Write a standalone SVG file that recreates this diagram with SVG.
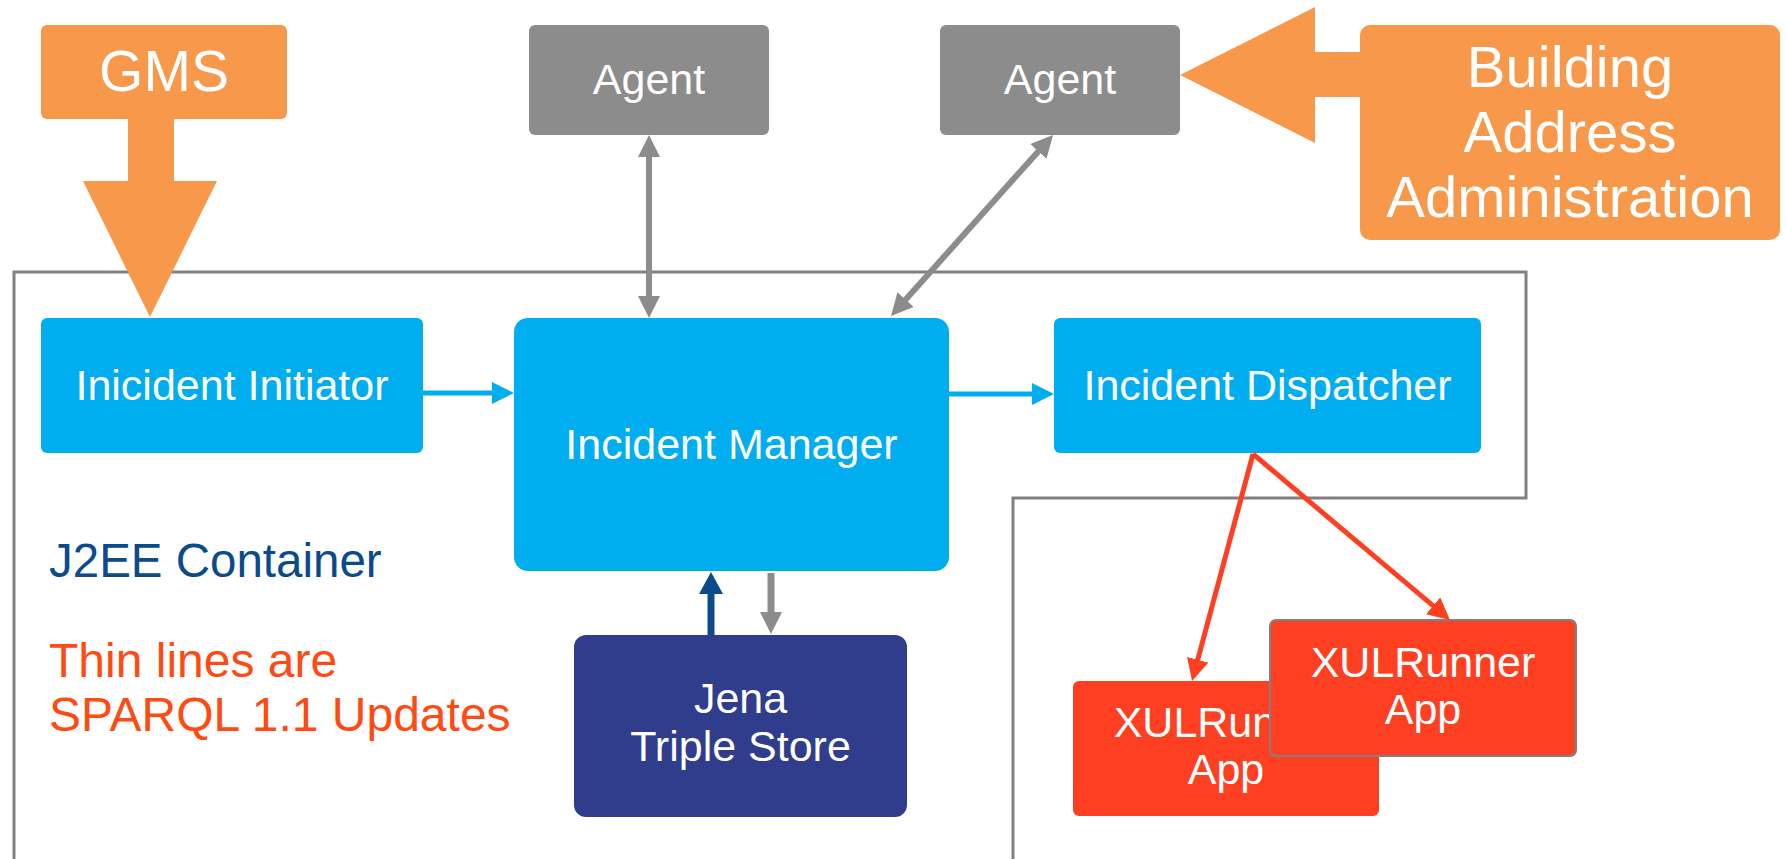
<svg xmlns="http://www.w3.org/2000/svg" width="1786" height="859" viewBox="0 0 1786 859">
<style>
text{font-family:"Liberation Sans",Arial,sans-serif;text-anchor:middle;fill:#fff}
.lbl{font-size:43px}
.big{font-size:58px}
.note{text-anchor:start;font-size:48px}
.gray{fill:#8C8C8C}
.orange{fill:#F7984A}
.blue{fill:#00AEEF}
.navy{fill:#303C8C}
.red{fill:#FF3F22}
</style>
<defs>
<marker id="hGray" markerUnits="userSpaceOnUse" markerWidth="22" markerHeight="22" refX="4" refY="11" orient="auto-start-reverse"><path d="M0,0 L22,11 L0,22 z" fill="#8C8C8C"/></marker>
<marker id="hBlue" markerUnits="userSpaceOnUse" markerWidth="22" markerHeight="22" refX="4" refY="11" orient="auto"><path d="M0,0 L22,11 L0,22 z" fill="#00AEEF"/></marker>
<marker id="hNavy" markerUnits="userSpaceOnUse" markerWidth="24" markerHeight="24" refX="4" refY="12" orient="auto"><path d="M0,0 L22,12 L0,24 z" fill="#0B4A8B"/></marker>
<marker id="hRed" markerUnits="userSpaceOnUse" markerWidth="22" markerHeight="22" refX="4" refY="11" orient="auto"><path d="M0,0 L22,11 L0,22 z" fill="#FF3F22"/></marker>
</defs>
<rect width="1786" height="859" fill="#fff"/>
<g id="container">
<path d="M14,859 V272 H1526 V498 H1013 V859" fill="none" stroke="#808080" stroke-width="3"/>
<text class="note" x="49" y="577" style="fill:#0B4A8B;font-size:47.5px">J2EE Container</text>
<text class="note" x="49" y="677" style="fill:#FF4A12">Thin lines are</text>
<text class="note" x="49" y="731" style="fill:#FF4A12">SPARQL 1.1 Updates</text>
</g>
<g id="gms">
<rect x="41" y="25" width="246" height="94" rx="6" class="orange"/>
<text x="164" y="91" style="font-size:57px">GMS</text>
<polygon points="128,118 174,118 174,181 217,181 150,317 83,181 128,181" class="orange"/>
</g>
<g id="agent1">
<rect x="529" y="25" width="240" height="110" rx="6" class="gray"/>
<text class="lbl" x="649" y="94">Agent</text>
</g>
<g id="agent2">
<rect x="940" y="25" width="240" height="110" rx="6" class="gray"/>
<text class="lbl" x="1060" y="94">Agent</text>
</g>
<g id="building">
<rect x="1360" y="25" width="420" height="215" rx="10" class="orange"/>
<text class="big" x="1570" y="87">Building</text>
<text class="big" x="1570" y="152">Address</text>
<text class="big" x="1570" y="217">Administration</text>
<polygon points="1361,52 1315,52 1315,7 1180,75 1315,143 1315,97 1361,97" class="orange"/>
</g>
<g id="initiator">
<rect x="41" y="318" width="382" height="135" rx="6" class="blue"/>
<text class="lbl" x="232" y="400">Inicident Initiator</text>
</g>
<g id="manager">
<rect x="514" y="318" width="435" height="253" rx="14" class="blue"/>
<text class="lbl" x="731.5" y="459">Incident Manager</text>
</g>
<g id="dispatcher">
<rect x="1054" y="318" width="427" height="135" rx="6" class="blue"/>
<text class="lbl" x="1267.5" y="400">Incident Dispatcher</text>
</g>
<g id="jena">
<rect x="574" y="635" width="333" height="182" rx="12" class="navy"/>
<text class="lbl" x="740.5" y="713">Jena</text>
<text class="lbl" x="740.5" y="761">Triple Store</text>
</g>
<g id="xul1">
<rect x="1073" y="681" width="306" height="135" rx="6" class="red"/>
<text class="lbl" x="1226" y="737">XULRunner</text>
<text class="lbl" x="1226" y="784">App</text>
</g>
<g id="xul2">
<rect x="1270" y="620" width="306" height="136" rx="6" class="red" stroke="#808080" stroke-width="2"/>
<text class="lbl" x="1423" y="677">XULRunner</text>
<text class="lbl" x="1423" y="724">App</text>
</g>
<g id="connectors" fill="none">
<line x1="649" y1="153" x2="649" y2="300" stroke="#8C8C8C" stroke-width="6" marker-start="url(#hGray)" marker-end="url(#hGray)"/>
<line x1="1041" y1="148.4" x2="903" y2="302.6" stroke="#8C8C8C" stroke-width="6" marker-start="url(#hGray)" marker-end="url(#hGray)"/>
<line x1="423" y1="393" x2="496" y2="393" stroke="#00AEEF" stroke-width="5" marker-end="url(#hBlue)"/>
<line x1="949" y1="394" x2="1036" y2="394" stroke="#00AEEF" stroke-width="5" marker-end="url(#hBlue)"/>
<line x1="711" y1="635" x2="711" y2="590" stroke="#0B4A8B" stroke-width="7" marker-end="url(#hNavy)"/>
<line x1="771" y1="573" x2="771" y2="616" stroke="#8C8C8C" stroke-width="7" marker-end="url(#hGray)"/>
<line x1="1253" y1="454" x2="1196.7" y2="663.6" stroke="#FF3F22" stroke-width="5" marker-end="url(#hRed)"/>
<line x1="1253" y1="454" x2="1436.2" y2="608.4" stroke="#FF3F22" stroke-width="5" marker-end="url(#hRed)"/>
</g>
</svg>
